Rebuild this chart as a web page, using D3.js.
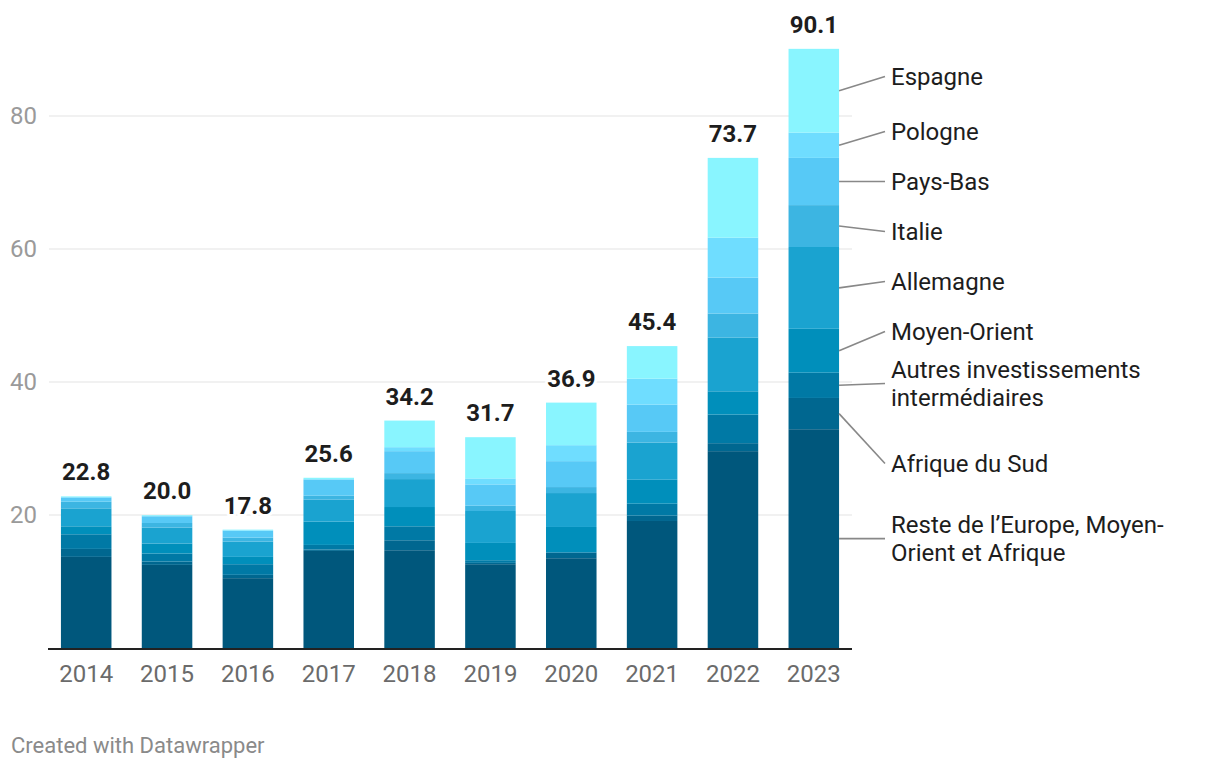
<!DOCTYPE html>
<html>
<head>
<meta charset="utf-8">
<script src="https://cdn.jsdelivr.net/npm/d3@7"></script>
<style>
  html, body { margin: 0; padding: 0; background: #fff; }
  svg { display: block; font-family: Roboto, "Noto Sans", sans-serif; }
</style>
</head>
<body>
<svg id="chart" width="1220" height="770"></svg>
<script>
// ---- data ----
const years = ["2014","2015","2016","2017","2018","2019","2020","2021","2022","2023"];
const seriesNames = ["Reste de l’Europe, Moyen-Orient et Afrique","Afrique du Sud","Autres investissements intermédiaires","Moyen-Orient","Allemagne","Italie","Pays-Bas","Pologne","Espagne"];
const labelLines = [["Reste de l’Europe, Moyen-","Orient et Afrique"],["Afrique du Sud"],["Autres investissements","intermédiaires"],["Moyen-Orient"],["Allemagne"],["Italie"],["Pays-Bas"],["Pologne"],["Espagne"]];
const reste      = [13.7, 12.5, 10.5, 14.6, 14.7, 12.6, 13.5, 19.1, 29.6, 32.9];
const afriqueSud = [1.2, 0.5, 0.5, 0.2, 1.5, 0.2, 0.8, 0.8, 1.2, 4.7];
const autres     = [2.2, 1.2, 1.6, 0.7, 2.1, 0.4, 0.1, 1.8, 4.3, 3.8];
const moyenOrient= [1.2, 1.5, 1.1, 3.5, 2.9, 2.6, 3.8, 3.6, 3.5, 6.6];
const allemagne  = [2.7, 2.4, 2.3, 3.3, 4.2, 4.8, 5.1, 5.6, 8.1, 12.3];
const italie     = [1.0, 0.7, 0.6, 0.6, 0.9, 0.8, 0.9, 1.6, 3.6, 6.3];
const paysBas    = [0.6, 1.0, 1.0, 2.4, 3.3, 3.2, 3.9, 4.1, 5.4, 7.1];
const pologne    = [0.1, 0.1, 0.1, 0.1, 0.6, 0.9, 2.4, 3.9, 6.0, 3.8];
const espagne    = [0.1, 0.1, 0.1, 0.2, 4.0, 6.2, 6.4, 4.9, 12.0, 12.6];
const yTicks = [20, 40, 60, 80];
const colors = ["#00577c","#006790","#0079a5","#008fbb","#1aa3d0","#3cb5e2","#57c9f6","#6fddff","#89f5ff"];

const seriesValues = [reste, afriqueSud, autres, moyenOrient, allemagne, italie, paysBas, pologne, espagne];
const rows = years.map((yr, i) => {
  const r = { year: yr };
  seriesNames.forEach((s, k) => r[s] = seriesValues[k][i]);
  return r;
});

// ---- layout ----
const svg = d3.select("#chart");
const plotLeft = 48, plotRight = 852, plotBottom = 648;
const FS = 24;

const x = d3.scaleBand().domain(years).range([plotLeft, plotRight]).paddingInner(0.375).paddingOuter(0.16);
const y = d3.scaleLinear().domain([0, 80]).range([plotBottom, 116]);

// gridlines
svg.append("g").selectAll("line").data(yTicks).join("line")
  .attr("x1", plotLeft + 1).attr("x2", plotRight)
  .attr("y1", d => y(d)).attr("y2", d => y(d))
  .attr("stroke", "#e3e3e3").attr("stroke-width", 1);

// y labels
svg.append("g").selectAll("text").data(yTicks).join("text")
  .attr("x", 10).attr("y", d => y(d)).attr("dy", "0.35em")
  .attr("font-size", FS).attr("fill", "#9a9a9a")
  .text(d => d);

// stacked bars
const stack = d3.stack().keys(seriesNames);
const stacked = stack(rows);
svg.append("g").selectAll("g").data(stacked).join("g")
  .attr("fill", (d, i) => colors[i])
  .selectAll("rect").data(d => d).join("rect")
  .attr("x", d => x(d.data.year))
  .attr("width", x.bandwidth())
  .attr("y", d => y(d[1]))
  .attr("height", d => y(d[0]) - y(d[1]));

// baseline
svg.append("line")
  .attr("x1", plotLeft).attr("x2", plotRight)
  .attr("y1", y(0) + 1).attr("y2", y(0) + 1)
  .attr("stroke", "#222").attr("stroke-width", 2);

// year labels
svg.append("g").selectAll("text").data(years).join("text")
  .attr("x", d => x(d) + x.bandwidth() / 2).attr("y", 682)
  .attr("text-anchor", "middle").attr("font-size", FS).attr("fill", "#6b6b6b")
  .text(d => d);

// totals
const totals = rows.map(r => d3.sum(seriesNames, s => r[s]));
svg.append("g").selectAll("text").data(years).join("text")
  .attr("x", d => x(d) + x.bandwidth() / 2)
  .attr("y", (d, i) => y(totals[i]) - 16)
  .attr("text-anchor", "middle").attr("font-size", FS).attr("font-weight", 700)
  .attr("fill", "#1d1d1d")
  .attr("stroke", "#fff").attr("stroke-width", 6).attr("paint-order", "stroke").attr("stroke-linejoin", "round")
  .text((d, i) => d3.format(".1f")(totals[i]));

// direct labels for last bar
const last = stacked.map(s => s[s.length - 1]);
const lastYear = years[years.length - 1];
const barRight = x(lastYear) + x.bandwidth();
const lineH = 28;
const labels = last.map((d, k) => ({
  k, lines: labelLines[k], want: y((d[0] + d[1]) / 2),
  above: labelLines[k].length > 1 ? 16 : 14,
  below: labelLines[k].length > 1 ? 44 : 14
}));
// order top to bottom
const ordered = labels.slice().sort((a, b) => a.want - b.want);
const gap = 22;
const offs = [0];
for (let i = 1; i < ordered.length; i++) {
  offs.push(offs[i - 1] + ordered[i - 1].below + gap + ordered[i].above + (i === 1 ? 5 : 0));
}
// pool adjacent violators on base positions
let blocks = [];
ordered.forEach((l, i) => {
  blocks.push({ sum: l.want - offs[i], n: 1, idx: [i] });
  while (blocks.length > 1) {
    const b = blocks[blocks.length - 1], a = blocks[blocks.length - 2];
    if (a.sum / a.n > b.sum / b.n) {
      blocks.splice(blocks.length - 2, 2, { sum: a.sum + b.sum, n: a.n + b.n, idx: a.idx.concat(b.idx) });
    } else break;
  }
});
blocks.forEach(b => b.idx.forEach(i => ordered[i].pos = b.sum / b.n + offs[i]));

const lx = 885, tx = 891;
const lab = svg.append("g");
ordered.forEach(l => {
  lab.append("line")
    .attr("x1", barRight).attr("y1", l.want)
    .attr("x2", lx).attr("y2", l.pos)
    .attr("stroke", "#888").attr("stroke-width", 1.6);
  const n = l.lines.length;
  const t = lab.append("text").attr("font-size", FS).attr("fill", "#1d1d1d");
  l.lines.forEach((s, j) => {
    t.append("tspan").attr("x", tx)
      .attr("y", l.pos + (j - (n - 1) / 2) * lineH)
      .attr("dy", "0.35em").text(s);
  });
});

// footer
svg.append("text").attr("x", 11).attr("y", 753)
  .attr("font-size", 22).attr("fill", "#8a8a8a")
  .text("Created with Datawrapper");
</script>
</body>
</html>
